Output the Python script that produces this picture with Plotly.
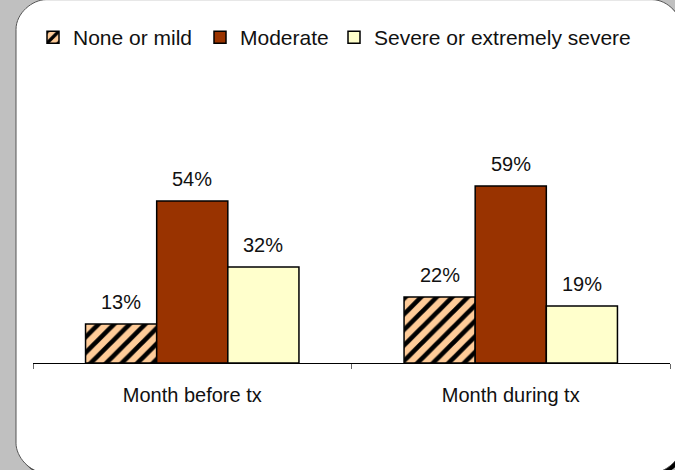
import plotly.graph_objects as go

categories = ["Month before tx", "Month during tx"]
none_mild = [13, 22]
moderate = [54, 59]
severe = [32, 19]

series_names = ["None or mild", "Moderate", "Severe or extremely severe"]
series_values = [none_mild, moderate, severe]
series_colors = ["#FFCC99", "#993300", "#FFFFCC"]

FONT = "Liberation Sans, Arial, sans-serif"
W, H = 675, 470
ML, MR, MT, MB = 33, 5, 60, 107
PW, PH = W - ML - MR, H - MT - MB


def px_x(v):
    return (v - ML) / PW


def px_y(v):
    return (H - MB - v) / PH


def rounded_path(x0, y0, x1, y1, r):
    ax0, ax1 = px_x(x0), px_x(x1)
    ay0, ay1 = px_y(y0), px_y(y1)
    rx, ry = r / PW, r / PH
    k = 0.45  # cubic control factor for a round-ish corner
    return (
        f"M {ax0 + rx},{ay0} L {ax1 - rx},{ay0} "
        f"C {ax1 - rx * k},{ay0} {ax1},{ay0 - ry * (1 - k)} {ax1},{ay0 - ry} "
        f"L {ax1},{ay1 + ry} "
        f"C {ax1},{ay1 + ry * k} {ax1 - rx * (1 - k)},{ay1} {ax1 - rx},{ay1} "
        f"L {ax0 + rx},{ay1} "
        f"C {ax0 + rx * k},{ay1} {ax0},{ay1 + ry * (1 - k)} {ax0},{ay1 + ry} "
        f"L {ax0},{ay0 - ry} "
        f"C {ax0},{ay0 - ry * k} {ax0 + rx * (1 - k)},{ay0} {ax0 + rx},{ay0} Z"
    )


fig = go.Figure()
widths = [122, 89, None]
for i, (name, vals, color) in enumerate(zip(series_names, series_values, series_colors)):
    pattern = dict(shape="/", fgcolor="black", fgopacity=1, size=11, solidity=0.42) if i == 0 else None
    fig.add_trace(go.Bar(
        x=categories, y=vals, name=name,
        marker=dict(color=color, line=dict(color="black", width=1.5), pattern=pattern),
        legendwidth=widths[i],
        hoverinfo="skip",
    ))

offsets = [-71, 0, 71]
for vals, off in zip(series_values, offsets):
    for cat, v in zip(categories, vals):
        fig.add_annotation(
            x=cat, y=v, text=f"{v}%", showarrow=False, xshift=off, yshift=9,
            yanchor="bottom", font=dict(family=FONT, size=20, color="#111111"),
        )

# panel background with shadow
fig.add_shape(type="path", path=rounded_path(19, -1, 685, 477, 30), xref="paper", yref="paper",
              fillcolor="black", line=dict(width=0), layer="below")
fig.add_shape(type="path", path=rounded_path(16, -4, 682, 474, 30), xref="paper", yref="paper",
              fillcolor="white", line=dict(color="#555555", width=1), layer="below")

fig.update_layout(
    width=W, height=H,
    margin=dict(l=ML, r=MR, t=MT, b=MB),
    paper_bgcolor="#C0C0C0",
    plot_bgcolor="rgba(0,0,0,0)",
    barmode="group", bargap=0.33, bargroupgap=0,
    font=dict(family=FONT, size=20, color="#111111"),
    showlegend=True,
    legend=dict(
        orientation="h", xref="container", yref="container",
        x=33 / W, y=1 - 17 / H, xanchor="left", yanchor="top",
        bgcolor="rgba(0,0,0,0)", font=dict(family=FONT, size=21, color="#111111"),
        traceorder="normal",
    ),
)
fig.update_xaxes(
    showline=True, linecolor="black", linewidth=1,
    ticks="outside", tickson="boundaries", ticklen=5, tickcolor="#666666",
    ticklabelstandoff=14, showgrid=False, range=[-0.5, 1.5],
    tickfont=dict(family=FONT, size=20, color="#111111"),
)
fig.update_yaxes(range=[0, 100], visible=False, showgrid=False)

fig.write_html("out.html", config={"displayModeBar": False},
               post_script="document.body.style.margin='0px';")
